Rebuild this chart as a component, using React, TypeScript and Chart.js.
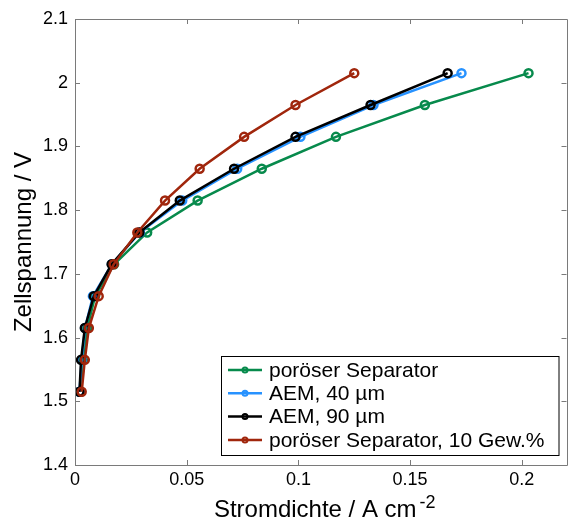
import React, { useEffect, useRef } from "react";
import { Chart, registerables } from "chart.js";

Chart.register(...registerables);

// Cell voltage levels (V) shared by all series
const voltage = [1.515, 1.565, 1.615, 1.665, 1.715, 1.765, 1.815, 1.865, 1.915, 1.965, 2.015];

// Current density (A cm^-2) for each series
const porousSeparator = [0.0025, 0.0035, 0.0055, 0.009, 0.0175, 0.0323, 0.0549, 0.0836, 0.1168, 0.1566, 0.203];
const aem40 = [0.002, 0.003, 0.0045, 0.008, 0.0165, 0.029, 0.048, 0.0726, 0.1009, 0.1336, 0.173];
const aem90 = [0.002, 0.0027, 0.0044, 0.0084, 0.0164, 0.0288, 0.0469, 0.0712, 0.0987, 0.1323, 0.1668];
const porous10 = [0.003, 0.0044, 0.0062, 0.0106, 0.0173, 0.0279, 0.0403, 0.0558, 0.0757, 0.0987, 0.125];

const seriesLabels = ["poröser Separator", "AEM, 40 µm", "AEM, 90 µm", "poröser Separator, 10 Gew.%"];
const seriesColors = ["#078a4c", "#2792ff", "#000000", "#a0260c"];

const xTicks = [0, 0.05, 0.1, 0.15, 0.2];
const yTicks = [1.4, 1.5, 1.6, 1.7, 1.8, 1.9, 2.0, 2.1];

const FONT = "'Liberation Sans', Arial, sans-serif";

const fmt = (v: number) => String(Number(v.toFixed(3)));

const framePlugin = {
  id: "frameTicks",
  afterDatasetsDraw(chart: any) {
    const { ctx, chartArea } = chart;
    const { left, right, top, bottom } = chartArea;
    const xs = chart.scales.x;
    const ys = chart.scales.y;
    const tl = 5;
    ctx.save();
    ctx.strokeStyle = "#7a7a7a";
    ctx.lineWidth = 1;
    ctx.beginPath();
    ctx.rect(Math.round(left) + 0.5, Math.round(top) + 0.5, Math.round(right - left), Math.round(bottom - top));
    ctx.stroke();
    ctx.beginPath();
    for (const v of xTicks) {
      const px = Math.round(xs.getPixelForValue(v)) + 0.5;
      ctx.moveTo(px, bottom);
      ctx.lineTo(px, bottom - tl);
      ctx.moveTo(px, top);
      ctx.lineTo(px, top + tl);
    }
    for (const v of yTicks) {
      const py = Math.round(ys.getPixelForValue(v)) + 0.5;
      ctx.moveTo(left, py);
      ctx.lineTo(left + tl, py);
      ctx.moveTo(right, py);
      ctx.lineTo(right - tl, py);
    }
    ctx.stroke();
    ctx.restore();
  },
};

const titlesPlugin = {
  id: "axisTitles",
  afterDraw(chart: any) {
    const { ctx, chartArea } = chart;
    ctx.save();
    ctx.fillStyle = "#000";
    // X title with superscript
    const main = "Stromdichte / A cm";
    const sup = "-2";
    ctx.font = `24px ${FONT}`;
    const wMain = ctx.measureText(main).width;
    ctx.font = `18px ${FONT}`;
    const wSup = ctx.measureText(sup).width;
    const total = wMain + 3 + wSup;
    const cx = (chartArea.left + chartArea.right) / 2 + 4;
    const x0 = cx - total / 2;
    ctx.textAlign = "left";
    ctx.textBaseline = "alphabetic";
    ctx.font = `24px ${FONT}`;
    ctx.fillText(main, x0, 517);
    ctx.font = `18px ${FONT}`;
    ctx.fillText(sup, x0 + wMain + 3, 508);
    // Y title
    ctx.font = `24px ${FONT}`;
    ctx.translate(31, (chartArea.top + chartArea.bottom) / 2);
    ctx.rotate(-Math.PI / 2);
    ctx.textAlign = "center";
    ctx.fillText("Zellspannung / V", 0, 0);
    ctx.restore();
  },
};

const legendPlugin = {
  id: "boxLegend",
  afterDraw(chart: any) {
    const { ctx, chartArea } = chart;
    const bx1 = chartArea.right - 8;
    const by1 = chartArea.bottom - 10;
    const bx0 = 221;
    const by0 = 356;
    ctx.save();
    ctx.fillStyle = "#fff";
    ctx.fillRect(bx0, by0, bx1 - bx0, by1 - by0);
    ctx.strokeStyle = "#000";
    ctx.lineWidth = 1;
    ctx.strokeRect(bx0 + 0.5, by0 + 0.5, bx1 - bx0, by1 - by0);
    ctx.font = `21px ${FONT}`;
    ctx.textAlign = "left";
    ctx.textBaseline = "middle";
    chart.data.datasets.forEach((ds: any, i: number) => {
      const y = by0 + 14 + i * 23.3;
      ctx.strokeStyle = ds.borderColor;
      ctx.lineWidth = 2.5;
      ctx.beginPath();
      ctx.moveTo(bx0 + 7, y);
      ctx.lineTo(bx0 + 41, y);
      ctx.stroke();
      ctx.lineWidth = 2;
      ctx.beginPath();
      ctx.arc(bx0 + 24, y, 2.5, 0, Math.PI * 2);
      ctx.stroke();
      ctx.fillStyle = "#000";
      ctx.fillText(ds.label, bx0 + 48, y + 1);
    });
    ctx.restore();
  },
};

export default function App() {
  const ref = useRef<HTMLCanvasElement | null>(null);

  useEffect(() => {
    if (!ref.current) return;
    const seriesValues = [porousSeparator, aem40, aem90, porous10];
    const datasets = seriesValues.map((vals, i) => ({
      label: seriesLabels[i],
      data: vals.map((x, k) => ({ x, y: voltage[k] })),
      borderColor: seriesColors[i],
      backgroundColor: seriesColors[i],
      pointBorderColor: seriesColors[i],
      pointBackgroundColor: "rgba(0,0,0,0)",
      borderWidth: 2.5,
      pointRadius: 4,
      pointBorderWidth: 2.5,
      tension: 0,
      fill: false,
      order: 4 - i,
    }));
    const tickFont = { family: FONT, size: 18 };
    const chart = new Chart(ref.current, {
      type: "line",
      data: { datasets },
      options: {
        animation: false,
        responsive: false,
        maintainAspectRatio: false,
        devicePixelRatio: 1,
        layout: { padding: { top: 19, right: 3, left: 0, bottom: 0 } },
        plugins: { legend: { display: false }, tooltip: { enabled: false } },
        scales: {
          x: {
            type: "linear",
            min: 0,
            max: 0.22,
            grid: { display: false, drawTicks: false },
            border: { display: false },
            ticks: { font: tickFont, color: "#000", padding: 4, maxRotation: 0, callback: (v: any) => fmt(Number(v)) },
            afterBuildTicks: (s: any) => {
              s.ticks = xTicks.map((v) => ({ value: v }));
            },
            afterFit: (s: any) => {
              s.height = 55;
            },
          },
          y: {
            type: "linear",
            min: 1.4,
            max: 2.1,
            grid: { display: false, drawTicks: false },
            border: { display: false },
            ticks: { font: tickFont, color: "#000", padding: 7, callback: (v: any) => fmt(Number(v)) },
            afterBuildTicks: (s: any) => {
              s.ticks = yTicks.map((v) => ({ value: v }));
            },
            afterFit: (s: any) => {
              s.width = 75;
            },
          },
        },
      } as any,
      plugins: [framePlugin, titlesPlugin, legendPlugin],
    });
    return () => chart.destroy();
  }, []);

  return (
    <div style={{ position: "fixed", left: 0, top: 0, width: 573, height: 520, background: "#fff" }}>
      <canvas ref={ref} width={573} height={520} style={{ width: 573, height: 520, display: "block" }} />
    </div>
  );
}
